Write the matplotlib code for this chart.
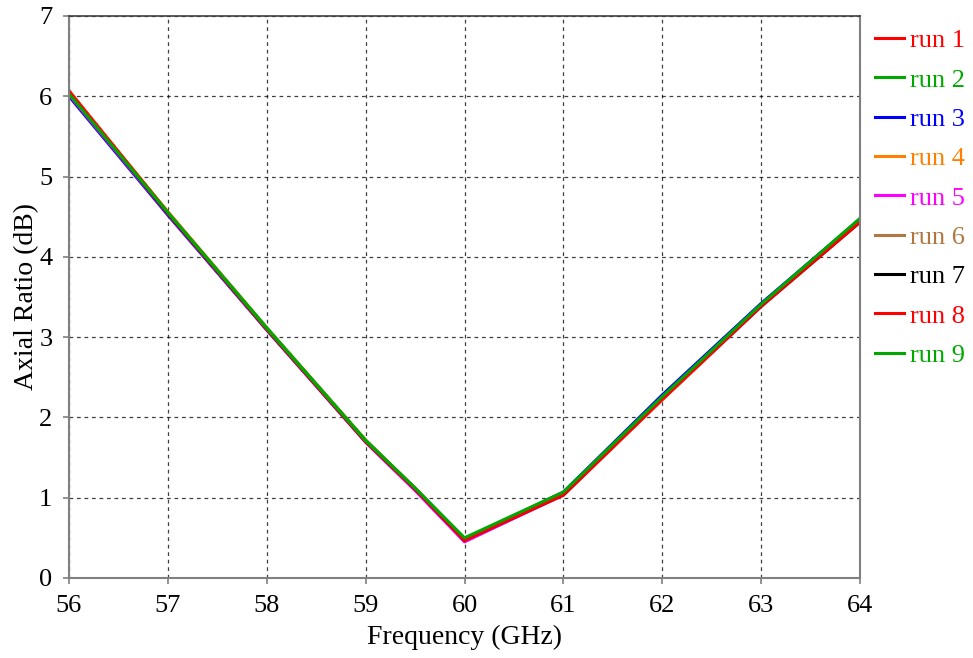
import matplotlib
matplotlib.use('Agg')
import matplotlib.pyplot as plt

freq = [56, 57, 58, 59, 59.5, 60, 61, 62, 63, 64]

run1 = [6.07, 4.55, 3.10, 1.70, 1.10, 0.46, 1.03, 2.22, 3.38, 4.43]
run2 = [6.04, 4.56, 3.12, 1.72, 1.12, 0.49, 1.06, 2.26, 3.41, 4.47]
run3 = [6.00, 4.52, 3.09, 1.70, 1.11, 0.48, 1.07, 2.28, 3.42, 4.47]
run4 = [6.06, 4.56, 3.11, 1.71, 1.11, 0.47, 1.04, 2.23, 3.39, 4.45]
run5 = [6.02, 4.53, 3.09, 1.69, 1.09, 0.45, 1.04, 2.24, 3.39, 4.45]
run6 = [6.05, 4.55, 3.11, 1.71, 1.12, 0.48, 1.05, 2.25, 3.40, 4.46]
run7 = [6.04, 4.54, 3.10, 1.70, 1.11, 0.47, 1.04, 2.24, 3.39, 4.44]
run8 = [6.06, 4.55, 3.10, 1.70, 1.11, 0.47, 1.04, 2.23, 3.39, 4.44]
run9 = [6.03, 4.55, 3.11, 1.71, 1.12, 0.50, 1.07, 2.26, 3.41, 4.48]

runs = [run1, run2, run3, run4, run5, run6, run7, run8, run9]
labels = ['run 1', 'run 2', 'run 3', 'run 4', 'run 5', 'run 6', 'run 7', 'run 8', 'run 9']
colors = ['#FF0000', '#00A800', '#0000FF', '#FF8000', '#FF00FF',
          '#B07840', '#000000', '#FF0000', '#00A800']

plt.rcParams['font.family'] = ['Liberation Serif', 'DejaVu Serif']

fig = plt.figure(figsize=(9.73, 6.58), dpi=100)
ax = fig.add_axes([0.0709, 0.1216, 0.8130, 0.8541])

for r, lab, c in zip(runs, labels, colors):
    ax.plot(freq, r, color=c, lw=2.2, label=lab)

ax.set_xlim(56, 64)
ax.set_ylim(0, 7)
ax.set_xticks(range(56, 65))
ax.set_yticks(range(0, 8))
ax.grid(True, color='#000000', linestyle=(0, (3, 3)), lw=0.9, alpha=0.75)
ax.tick_params(labelsize=19, length=4, color='#808080', width=1.2)
ax.tick_params(axis='x', pad=8)
ax.tick_params(axis='y', pad=8)
ax.set_xlabel('Frequency (GHz)', fontsize=20, labelpad=6)
ax.set_ylabel('Axial Ratio (dB)', fontsize=20, labelpad=0)
for s in ['left', 'bottom', 'right']:
    ax.spines[s].set_color('#808080')
    ax.spines[s].set_linewidth(1.5)
ax.spines['top'].set_color('#404040')
ax.spines['top'].set_linewidth(1.2)

leg = fig.legend(loc='upper left', bbox_to_anchor=(0.899, 0.956), frameon=False,
                 fontsize=19, handlelength=1.1, handletextpad=0.22, labelspacing=0.6,
                 borderaxespad=0, borderpad=0)
for t, c in zip(leg.get_texts(), colors):
    t.set_color(c)

fig.savefig('out.png', dpi=100)
